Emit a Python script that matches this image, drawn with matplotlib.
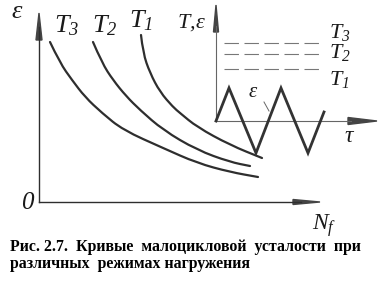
import numpy as np
import matplotlib
matplotlib.use("Agg")
import matplotlib.pyplot as plt
from matplotlib.transforms import Affine2D
from matplotlib.path import Path
from matplotlib.patches import PathPatch

plt.rcParams['mathtext.fontset'] = 'custom'
plt.rcParams['mathtext.it'] = 'Liberation Serif:italic'
plt.rcParams['mathtext.rm'] = 'Liberation Serif:italic'

# fatigue curves (N_f, eps) relative to the origin
curve_labels = [r'$T_3$', r'$T_2$', r'$T_1$']
n_t3 = [11, 21, 33, 46, 63, 84, 124, 158, 191, 219]
e_t3 = [160, 139, 122, 105, 89, 72, 54, 39, 30, 25]
n_t2 = [54, 63, 74, 87, 101, 124, 158, 191, 211]
e_t2 = [160, 139, 122, 106, 92, 72, 52, 40, 36]
n_t1 = [102, 104, 111, 121, 134, 141, 158, 191, 223]
e_t1 = [167, 149, 129, 110, 95, 89, 75, 57, 44]

# inset: strain cycle and temperature levels
tau = [0, 13, 40, 65, 92, 108]
eps_cycle = [0, 33, -32, 33, -32, 9]
temp_levels = [78, 67, 52]          # T3, T2, T1
temp_labels = [r'$T_3$', r'$T_2$', r'$T_1$']

caption1 = "Рис. 2.7.  Кривые  малоцикловой  усталости  при"
caption2 = "различных  режимах нагружения"


def smooth_path(xs, ys):
    # read points used as quadratic control points, so the line has no kinks
    p = np.column_stack([xs, ys]).astype(float)
    verts = [p[0]]
    codes = [Path.MOVETO]
    for i in range(1, len(p) - 1):
        verts += [p[i], (p[i] + p[i + 1]) / 2]
        codes += [Path.CURVE3, Path.CURVE3]
    verts.append(p[-1])
    codes.append(Path.LINETO)
    return Path(verts, codes)


fig = plt.figure(figsize=(3.88, 2.91), dpi=100)
ax = fig.add_axes([0, 0, 1, 1])
ax.set_xlim(0, 388)
ax.set_ylim(291, 0)
ax.axis('off')

# origins of the two diagrams (pixel positions in the picture)
main_tr = Affine2D().scale(1, -1).translate(39, 202) + ax.transData
ins_tr = Affine2D().scale(1, -1).translate(216, 121) + ax.transData

dark = '#2e2e2e'

# main axes
ax.plot([0, 0], [0, 175], color=dark, lw=1.0, transform=main_tr)
ax.plot([0, 262], [0, 0], color=dark, lw=1.0, transform=main_tr)
ax.arrow(39, 40, 0, -27, width=0.01, head_width=6, head_length=27,
         length_includes_head=True, color='#444444')
ax.arrow(293, 202, 27, 0, width=0.01, head_width=5, head_length=27,
         length_includes_head=True, color='#444444')

for n, e in [(n_t3, e_t3), (n_t2, e_t2), (n_t1, e_t1)]:
    ax.add_patch(PathPatch(smooth_path(n, e), fill=False, edgecolor=dark,
                           lw=1.6, capstyle='round', transform=main_tr))

serif = dict(family='Liberation Serif', style='italic', color='#1a1a1a')
ax.text(17, 18, 'ε', fontsize=19, ha='center', va='baseline', **serif)
ax.text(21, 209, '0', fontsize=18, ha='left', va='baseline', **serif)
ax.text(312, 230, r'$N_f$', fontsize=17, ha='left', va='baseline', **serif)
for lab, x, y in zip(curve_labels, [54, 92, 129], [32, 32, 27]):
    ax.text(x, y, lab, fontsize=19, ha='left', va='baseline', **serif)

# inset axes
ax.plot([0, 0], [0, 95], color='#666666', lw=0.8, transform=ins_tr)
ax.plot([0, 135], [0, 0], color='#666666', lw=0.8, transform=ins_tr)
ax.arrow(216, 32, 0, -27, width=0.01, head_width=5, head_length=27,
         length_includes_head=True, color='#444444')
ax.arrow(348, 121, 29, 0, width=0.01, head_width=7, head_length=29,
         length_includes_head=True, color='#444444')

for lvl in temp_levels:
    ax.plot([8, 106], [lvl, lvl], color='#777777', lw=0.8,
            dashes=(13, 5), transform=ins_tr)
for lab, y in zip(temp_labels, [38, 58, 85]):
    ax.text(329, y, lab, fontsize=16, ha='left', va='baseline', **serif)

ax.plot(tau, eps_cycle, color='#333333', lw=2.0, transform=ins_tr,
        solid_joinstyle='miter')

ax.text(177, 28, r'$T,\!\varepsilon$', fontsize=16, ha='left', va='baseline', **serif)
ax.text(344, 142, 'τ', fontsize=17, ha='left', va='baseline', **serif)
ax.text(249, 97, 'ε', fontsize=15, ha='left', va='baseline', **serif)
ax.plot([264, 269], [102, 111], color='#666666', lw=0.7)

bold = dict(family='Liberation Serif', weight='bold', color='black', fontsize=11.4)
ax.text(10, 251, caption1, ha='left', va='baseline', **bold)
ax.text(10, 268, caption2, ha='left', va='baseline', **bold)

fig.savefig('out.png', dpi=100)
